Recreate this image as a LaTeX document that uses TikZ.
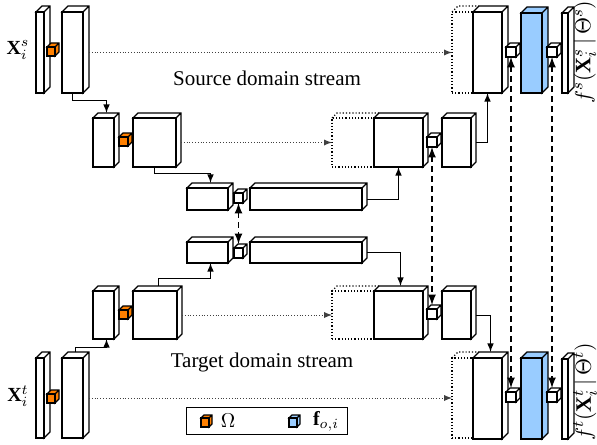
\documentclass[tikz,border=0pt]{standalone}
\usepackage{fontspec}
\setmainfont{Liberation Serif}
\definecolor{cuborange}{RGB}{255,128,0}
\definecolor{cubblue}{RGB}{153,204,255}

\begin{document}
\begin{tikzpicture}[x=0.5pt, y=-0.5pt, line width=0.6pt]
\tikzset{sz/.style 2 args={minimum width=#1*0.5pt, minimum height=#2*0.5pt},
  cub/.style 2 args={draw, fill=#1, inner sep=0pt, outer sep=0pt, anchor=north west,
    append after command={\pgfextra{\draw[fill=#1] (\tikzlastnode.north west) -- ++(#2,-#2)
      -- ([shift={(#2,-#2)}]\tikzlastnode.north east) -- ([shift={(#2,-#2)}]\tikzlastnode.south east)
      -- (\tikzlastnode.south east) -- (\tikzlastnode.north east) -- cycle
      (\tikzlastnode.north east) -- ++(#2,-#2);}}},
  ghost/.style={draw, densely dotted, inner sep=0pt, outer sep=0pt, anchor=north west,
    append after command={\pgfextra{\draw[densely dotted] (\tikzlastnode.north west) -- ++(#1,-#1)
      -- ([shift={(#1,-#1)}]\tikzlastnode.north east);}}},
  arr/.style={->, >=latex, line width=0.5pt},
  skip/.style={->, >=latex, densely dotted, line width=0.4pt, black!75},
  dsh/.style={<->, >=latex, densely dashed, line width=0.8pt}}
\useasboundingbox (0,0) rectangle (597,444);
\node[cub={white}{6}, sz={8}{81}] (s1) at (36,12) {};
\node[cub={cuborange}{4}, sz={8}{9}] (o1) at (47,47) {};
\node[cub={white}{6}, sz={21}{81}] (s2) at (62,12) {};
\node[cub={white}{5}, sz={21}{49}] (s3) at (93,118) {};
\node[cub={cuborange}{4}, sz={9}{9}] (o2) at (119,137) {};
\node[cub={white}{5}, sz={43}{49}] (s4) at (133,118) {};
\node[cub={white}{5}, sz={41}{22}] (s5) at (187,188) {};
\node[cub={white}{4}, sz={9}{10}] (w5) at (234,193) {};
\node[cub={white}{5}, sz={112}{22}] (s6) at (250,188) {};
\node[ghost=5, sz={42}{49}] (g7) at (332,118) {};
\node[cub={white}{5}, sz={49}{49}] (s7) at (374,118) {};
\node[cub={white}{4}, sz={10}{10}] (w7) at (427,137) {};
\node[cub={white}{5}, sz={29}{49}] (s8) at (442,118) {};
\node[ghost=6, sz={21}{81}] (g9) at (452,12) {};
\node[cub={white}{6}, sz={29}{81}] (s9) at (473,12) {};
\node[cub={white}{4}, sz={10}{10}] (w9a) at (506,47) {};
\node[cub={cubblue}{6}, sz={21}{80}] (b9) at (521,13) {};
\node[cub={white}{4}, sz={10}{10}] (w9b) at (547,47) {};
\node[cub={white}{6}, sz={6}{80}] (s10) at (562,13) {};

\node[cub={white}{6}, sz={8}{80}] (t1) at (36,358) {};
\node[cub={cuborange}{4}, sz={8}{9}] (ot1) at (47,394) {};
\node[cub={white}{6}, sz={21}{80}] (t2) at (62,358) {};
\node[cub={white}{5}, sz={21}{48}] (t3) at (93,291) {};
\node[cub={cuborange}{4}, sz={9}{9}] (ot2) at (119,310) {};
\node[cub={white}{5}, sz={44}{48}] (t4) at (133,291) {};
\node[cub={white}{5}, sz={41}{21}] (t5) at (187,242) {};
\node[cub={white}{4}, sz={9}{10}] (wt5) at (234,248) {};
\node[cub={white}{5}, sz={112}{21}] (t6) at (250,242) {};
\node[ghost=5, sz={42}{48}] (gt7) at (332,291) {};
\node[cub={white}{5}, sz={49}{48}] (tt7) at (374,291) {};
\node[cub={white}{4}, sz={10}{10}] (wt7) at (427,309) {};
\node[cub={white}{5}, sz={29}{48}] (t8) at (442,291) {};
\node[ghost=6, sz={21}{80}] (gt9) at (452,358) {};
\node[cub={white}{6}, sz={29}{81}] (t9) at (473,358) {};
\node[cub={white}{4}, sz={10}{10}] (wt9a) at (506,392) {};
\node[cub={cubblue}{6}, sz={21}{81}] (bt9) at (521,358) {};
\node[cub={white}{4}, sz={10}{10}] (wt9b) at (547,392) {};
\node[cub={white}{6}, sz={6}{80}] (t10) at (562,359) {};

\node (xs) at (18,50) {$\mathbf{X}_i^s$};
\node (xt) at (18,396) {$\mathbf{X}_i^t$};
\node[rotate=90, inner sep=1pt, font=\fontsize{11}{13}\selectfont] (fs) at (585,52) {$f^s(\mathbf{X}_i^s\,|\,\Theta^s)$};
\node[rotate=90, inner sep=1pt, font=\fontsize{11}{13}\selectfont] (ft) at (585,392) {$f^t(\mathbf{X}_i^t\,|\,\Theta^t)$};
\node[font=\fontsize{10.5}{12}\selectfont] (src) at (267,78) {Source domain stream};
\node[font=\fontsize{10.5}{12}\selectfont] (tgt) at (262,362) {Target domain stream};

\node[draw, sz={161}{27}, inner sep=0pt, anchor=north west] (leg) at (186,407) {};
\node[cub={cuborange}{3}, sz={8}{9}] (lo) at (201,418) {};
\node (lom) at (228,421) {$\Omega$};
\node[cub={cubblue}{3}, sz={8}{9}] (lb) at (289,418) {};
\node (lbm) at (326,421) {$\mathbf{f}_{o,i}$};

\draw[skip] ([xshift=3pt]s2.east) -- (g9.west);
\draw[skip] ([xshift=2.5pt]s4.east) -- (g7.west);
\draw[skip] ([xshift=3pt]t2.east) -- (gt9.west);
\draw[skip] ([xshift=2.5pt]t4.east) -- (gt7.west);
\draw[arr] (s2.south) -- ++(0,7) -| ([shift={(3,-5)}]s3.north);
\draw[arr] (s4.south) -- ++(0,6) -| ([shift={(3,-5)}]s5.north);
\draw[arr] ([xshift=2.5pt]s6.east) -| (s7.south);
\draw[arr] ([xshift=2.5pt]s8.east) -| (s9.south);
\draw[arr] ([shift={(3,-6)}]t2.north) -- ++(0,-5) -| ([xshift=1.5pt]t3.south);
\draw[arr] ([shift={(3,-5)}]t4.north) -- ++(0,-8) -| ([xshift=1.5pt]t5.south);
\draw[arr] ([xshift=2.5pt]t6.east) -| ([shift={(2,-5)}]tt7.north);
\draw[arr] ([xshift=2.5pt]t8.east) -| ([shift={(3,-6)}]t9.north);
\draw[dsh] (w5.south) -- ([yshift=2pt]wt5.north);
\draw[dsh] (w7.south) -- ([yshift=2pt]wt7.north);
\draw[dsh] (w9a.south) -- ([yshift=2pt]wt9a.north);
\draw[dsh] (w9b.south) -- ([yshift=2pt]wt9b.north);
\end{tikzpicture}
\end{document}
